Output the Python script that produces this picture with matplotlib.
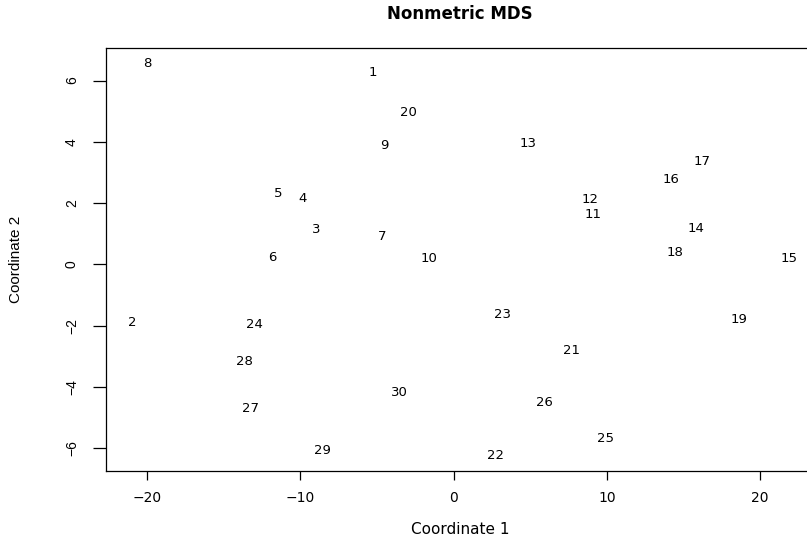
import matplotlib
matplotlib.use("Agg")
import matplotlib.pyplot as plt
import numpy as np

# the reference is stretched sideways, so horizontal text gets the wider DejaVu
# and the rotated (vertical) text keeps the narrower Liberation Sans
plt.rcParams['font.family'] = ['DejaVu Sans']
narrow = ['Liberation Sans', 'DejaVu Sans']

# point labels and their MDS coordinates
labels = [str(i) for i in range(1, 31)]
coord1 = [-5.29, -20.95, -8.93, -9.82, -11.41, -11.84, -4.63, -19.97, -4.49, -1.58,
          9.13, 8.89, 4.88, 15.79, 21.86, 14.18, 16.22, 14.42, 18.61, -2.91,
          7.72, 2.73, 3.17, -13.01, 9.93, 5.96, -13.21, -13.64, -8.53, -3.51]
coord2 = [6.25, -1.89, 1.14, 2.15, 2.31, 0.22, 0.92, 6.55, 3.88, 0.18,
          1.64, 2.13, 3.96, 1.16, 0.20, 2.77, 3.37, 0.40, -1.79, 4.96,
          -2.80, -6.23, -1.63, -1.95, -5.67, -4.50, -4.69, -3.16, -6.06, -4.18]
xticks = [-20, -10, 0, 10, 20]
yticks = [-6, -4, -2, 0, 2, 4, 6]

x = np.array(coord1)
y = np.array(coord2)

fig = plt.figure(figsize=(8.07, 5.43), dpi=100)
# plot region runs off the right edge, as in the original
ax = fig.add_axes([106/807, 1 - 471/543, (815 - 106)/807, (471 - 48)/543])

for lab, xi, yi in zip(labels, x, y):
    ax.text(xi, yi, lab, ha='center', va='center', fontsize=9.5)

# R style 4% padding
dx = (x.max() - x.min()) * 0.04
dy = (y.max() - y.min()) * 0.04
ax.set_xlim(x.min() - dx, x.max() + dx)
ax.set_ylim(y.min() - dy, y.max() + dy)

ax.set_xticks(xticks)
ax.set_yticks(yticks)
ax.tick_params(axis='x', length=6.5, width=0.9, pad=8, labelsize=10)
ax.tick_params(axis='y', length=9.5, width=0.9, pad=10, labelsize=10)
for t in ax.get_yticklabels():
    t.set_rotation(90)
    t.set_va('center')
    t.set_family(narrow)
for s in ax.spines.values():
    s.set_linewidth(0.9)

ax.set_xlabel("Coordinate 1", fontsize=11, labelpad=12)
ax.set_ylabel("Coordinate 2", fontsize=11, labelpad=30, family=narrow)
fig.text(460/807, 1 - 14/543, "Nonmetric MDS", ha='center', va='center',
         fontsize=12, fontweight='bold')

fig.savefig("out.png", dpi=100)
